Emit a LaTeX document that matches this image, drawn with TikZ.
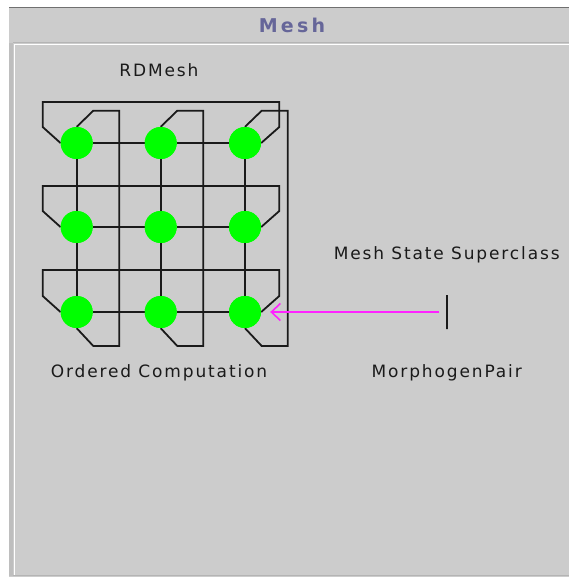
\documentclass[tikz,border=0pt]{standalone}
\usepackage{fontspec}
\setmainfont{DejaVu Sans}
\newfontfamily\lblfont[LetterSpace=11]{DejaVu Sans}
\newfontfamily\ttlfont[LetterSpace=17]{DejaVu Sans Bold}
\usetikzlibrary{arrows.meta}
\definecolor{panelgray}{HTML}{CCCCCC}
\definecolor{edgegray}{HTML}{B4B4B4}
\definecolor{darkedge}{HTML}{707070}
\definecolor{titlecol}{HTML}{666699}
\definecolor{meshgreen}{HTML}{00FF00}
\definecolor{arrowmag}{HTML}{FF22FF}
\definecolor{wirecol}{HTML}{1A1A1A}
\tikzset{
  dot/.style={circle, fill=meshgreen, draw=none, minimum size=32pt, inner sep=0pt},
  wire/.style={draw=wirecol, line width=1.8pt, line join=miter},
  lbl/.style={font=\lblfont\fontsize{17}{20}\selectfont, text=wirecol, inner sep=0pt},
  ttl/.style={font=\ttlfont\fontsize{19}{22}\selectfont, text=titlecol, inner sep=0pt},
  barnode/.style={draw=wirecol, line width=1.8pt, minimum width=0pt, minimum height=34pt, inner sep=0pt},
  arr/.style={draw=arrowmag, line width=1.8pt, -{Straight Barb[length=9pt,width=17pt,line width=1.6pt]}}
}
\begin{document}
\begin{tikzpicture}[x=1pt,y=-1pt]
\useasboundingbox (0,0) rectangle (569,579);
\fill[white] (0,0) rectangle (569,579);
% outer panel
\fill[panelgray] (9,7) rectangle (569,577);
\draw[darkedge, line width=1.5pt] (9,7.5) -- (569,7.5);
\fill[edgegray!60!panelgray] (9,43) rectangle (13,576);
\draw[edgegray, line width=1.2pt] (13,42.2) -- (569,42.2);
\draw[white, line width=1.4pt] (14.7,44.3) -- (569,44.3);
\draw[white, line width=1.4pt] (14.7,44.3) -- (14.7,574.5);
\draw[edgegray, line width=1.4pt] (13,575.5) -- (569,575.5);

\node[ttl] (title) at (292,25) {Mesh};

% mesh nodes
\node[dot] (n11) at (76.7,143) {};
\node[dot] (n12) at (160.7,143) {};
\node[dot] (n13) at (245,143) {};
\node[dot] (n21) at (76.7,227) {};
\node[dot] (n22) at (160.7,227) {};
\node[dot] (n23) at (245,227) {};
\node[dot] (n31) at (76.7,312) {};
\node[dot] (n32) at (160.7,312) {};
\node[dot] (n33) at (245,312) {};

% row connections
\draw[wire] (n11) -- (n12) -- (n13);
\draw[wire] (n21) -- (n22) -- (n23);
\draw[wire] (n31) -- (n32) -- (n33);
% column connections
\draw[wire] (n11) -- (n21) -- (n31);
\draw[wire] (n12) -- (n22) -- (n32);
\draw[wire] (n13) -- (n23) -- (n33);
% row wrap-around loops
\draw[wire] (n11.west) -- (42.7,127) -- (42.7,102) -- (279.3,102) -- (279.3,127) -- (n13.east);
\draw[wire] (n21.west) -- (42.7,211) -- (42.7,186) -- (279.3,186) -- (279.3,211) -- (n23.east);
\draw[wire] (n31.west) -- (42.7,296) -- (42.7,270) -- (279.3,270) -- (279.3,296) -- (n33.east);
% column wrap-around loops
\draw[wire] (n11.north) -- (93.3,110.7) -- (119.3,110.7) -- (119.3,346) -- (93.3,346) -- (n31.south);
\draw[wire] (n12.north) -- (177.3,110.7) -- (203.3,110.7) -- (203.3,346) -- (177.3,346) -- (n32.south);
\draw[wire] (n13.north) -- (261.7,110.7) -- (287.7,110.7) -- (287.7,346) -- (261.7,346) -- (n33.south);

% dots on top of wires
\foreach \n in {n11,n12,n13,n21,n22,n23,n31,n32,n33}{
  \fill[meshgreen] (\n) circle (16pt);
}

\node[lbl] (rdmesh) at (159,70) {RDMesh};
\node[lbl] (ordered) at (159,373) {Ordered Computation};
\node[lbl] (superclass) at (446.7,255) {Mesh State Superclass};
\node[lbl] (morph) at (446.7,372.7) {MorphogenPair};

\node[barnode] (bar) at (447.3,312) {};
\draw[arr, shorten <=7pt, shorten >=9pt] (bar) -- (n33);
\end{tikzpicture}
\end{document}
